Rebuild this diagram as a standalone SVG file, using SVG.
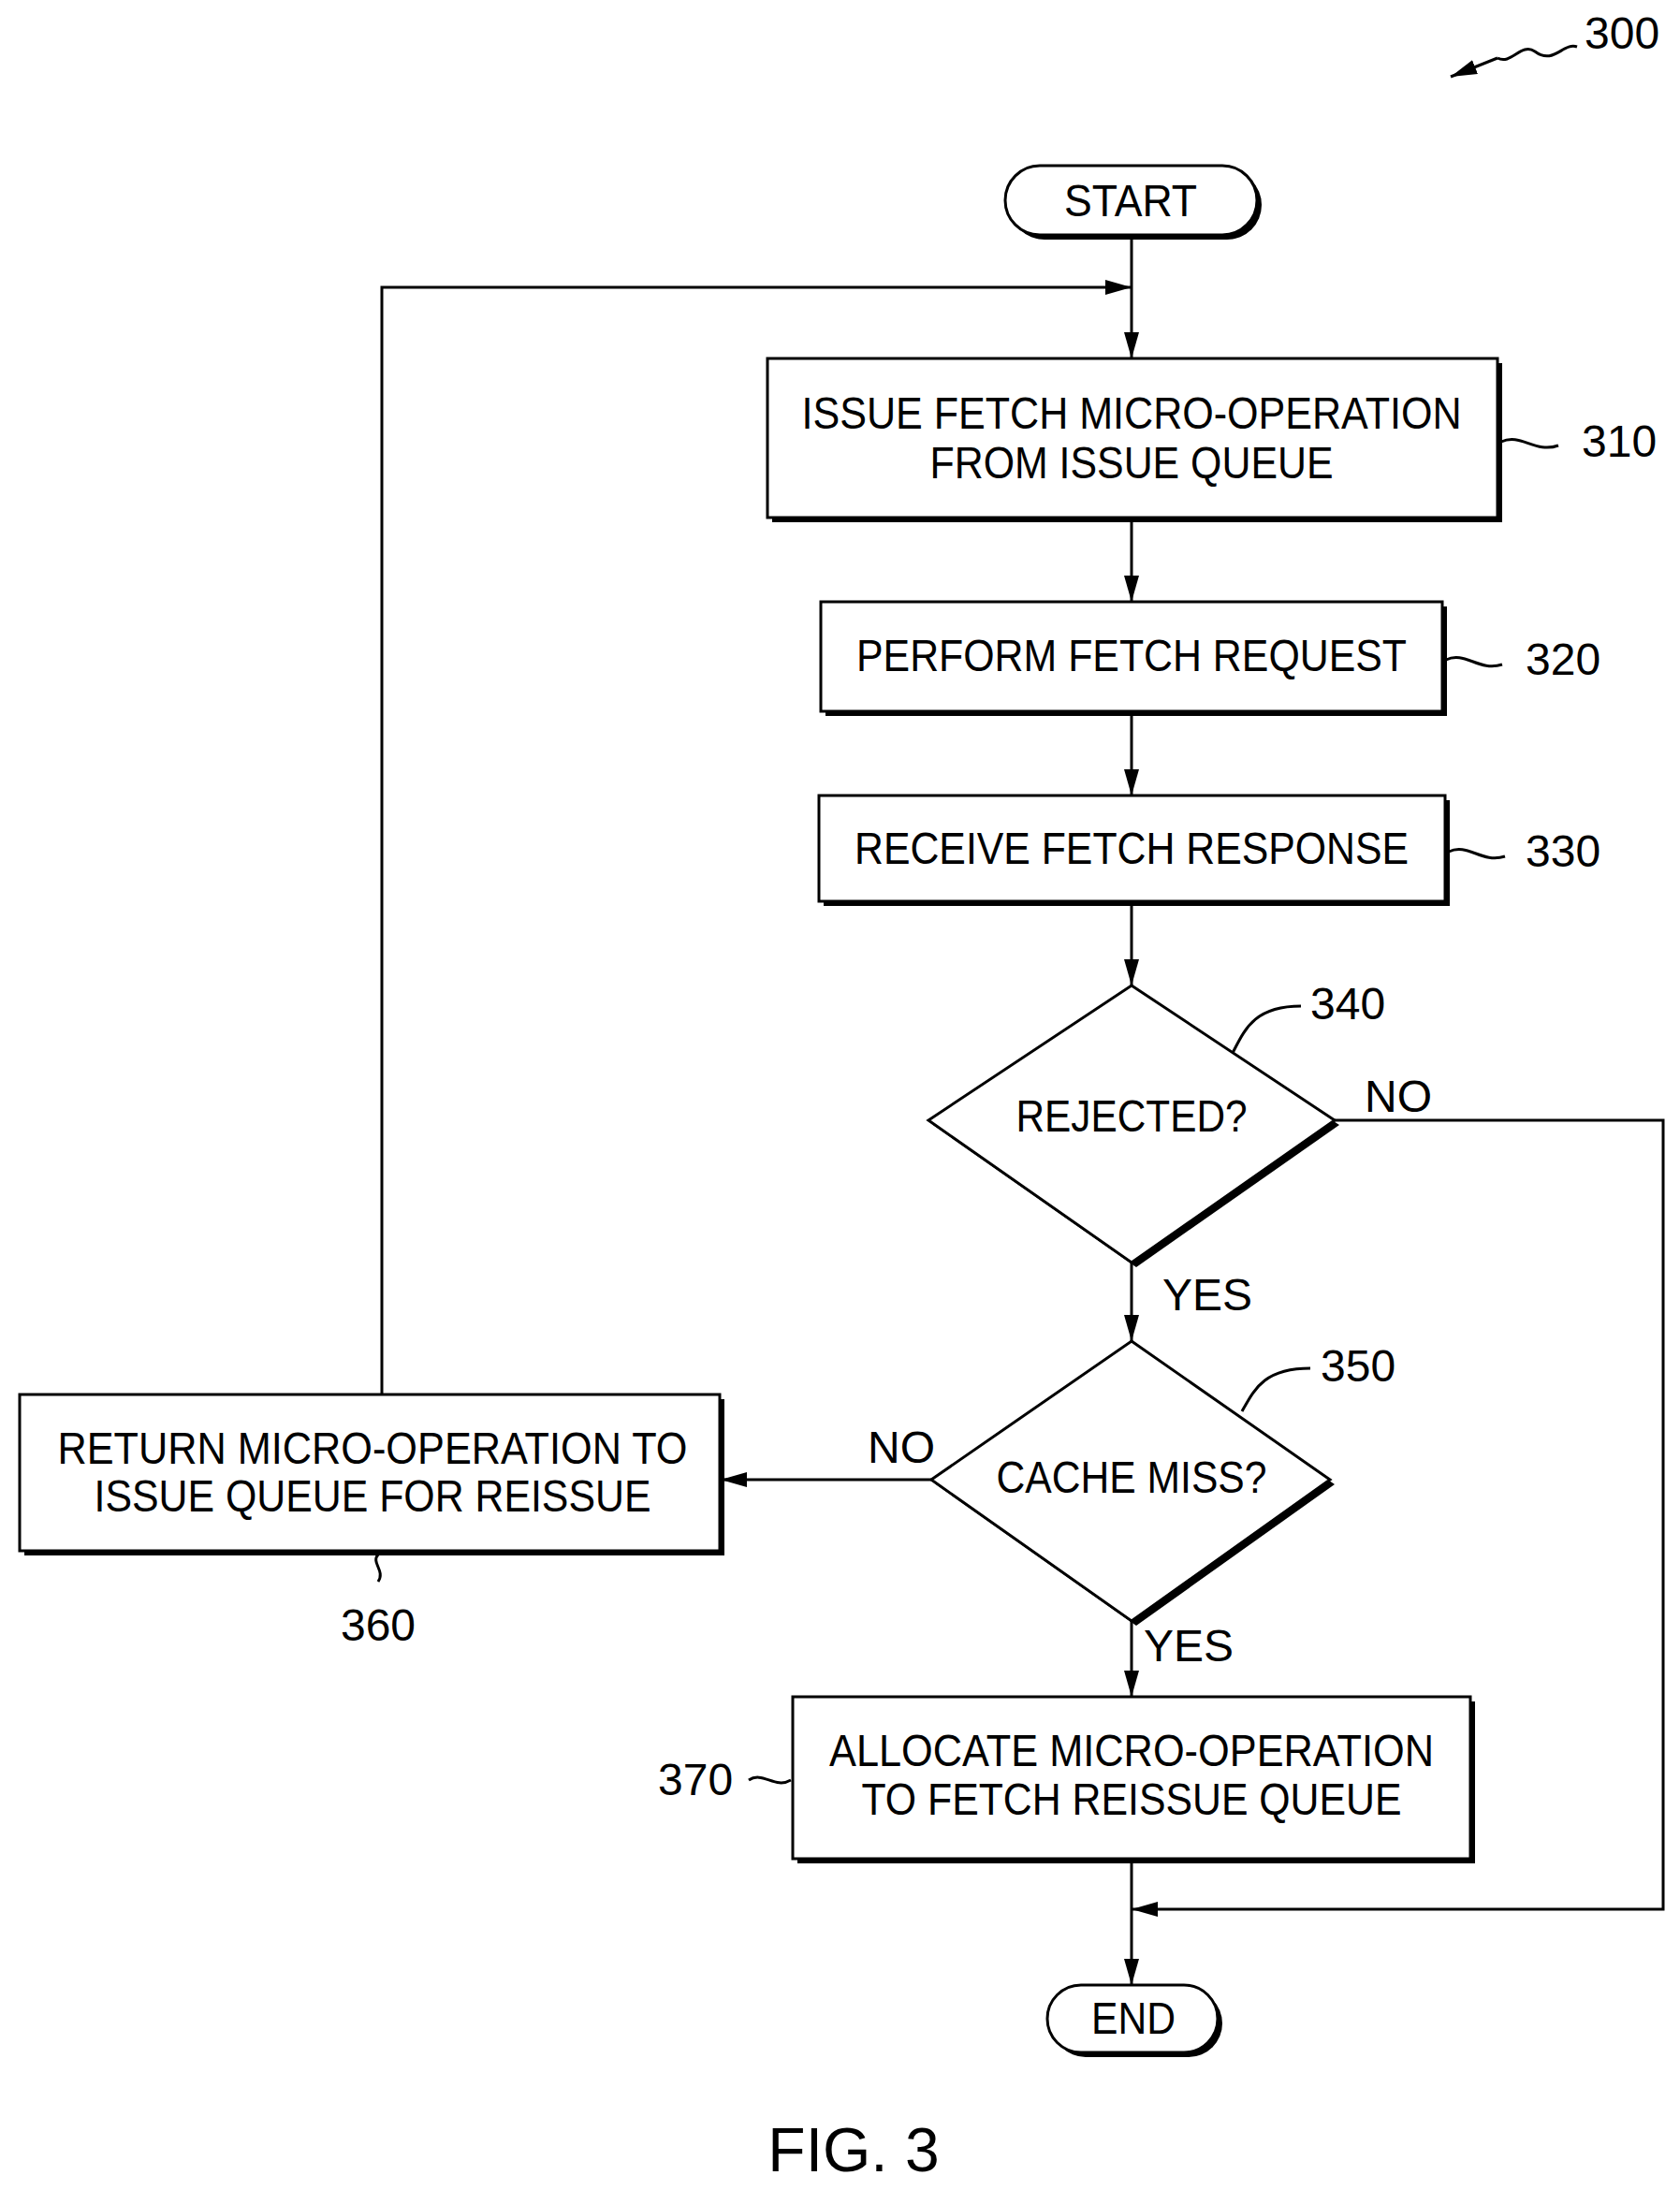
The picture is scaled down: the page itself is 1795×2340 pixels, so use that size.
<svg xmlns="http://www.w3.org/2000/svg" width="1795" height="2340" viewBox="0 0 1795 2340">
<style>
text{font-family:"Liberation Sans",Arial,sans-serif;font-size:48px;fill:#000}
.c{text-anchor:middle}
.box{fill:#fff;stroke:#000;stroke-width:3}
.sh{fill:#000}
.ln{fill:none;stroke:#000;stroke-width:3}
</style>
<defs><marker id="a" markerWidth="12" markerHeight="10" refX="12" refY="5" orient="auto" markerUnits="userSpaceOnUse"><path d="M0,0L24,5L0,10z" transform="scale(0.5,1)"/></marker>
<marker id="ah" markerWidth="28" markerHeight="16" refX="28" refY="8" orient="auto" markerUnits="userSpaceOnUse"><path d="M0,0L28,8L0,16z"/></marker></defs>
<rect width="1795" height="2340" fill="#fff"/>
<g id="connectors">
<path class="ln" d="M1209,251V383" marker-end="url(#ah)"/>
<path class="ln" d="M408,1490V307H1209" marker-end="url(#ah)"/>
<path class="ln" d="M1209,553V643" marker-end="url(#ah)"/>
<path class="ln" d="M1209,760V850" marker-end="url(#ah)"/>
<path class="ln" d="M1209,963V1053" marker-end="url(#ah)"/>
<path class="ln" d="M1209,1349V1433" marker-end="url(#ah)"/>
<path class="ln" d="M995,1581H770" marker-end="url(#ah)"/>
<path class="ln" d="M1209,1732V1813" marker-end="url(#ah)"/>
<path class="ln" d="M1426,1197H1777V2040H1209" marker-end="url(#ah)"/>
<path class="ln" d="M1209,1986V2121" marker-end="url(#ah)"/>
<text x="1458" y="1188">NO</text>
<text x="1242" y="1400">YES</text>
<text x="927" y="1563">NO</text>
<text x="1222" y="1775">YES</text>
</g>
<g id="n300"><text x="1693" y="52">300</text><path class="ln" d="M1685,50C1670,45 1660,70 1640,55C1625,45 1615,70 1600,62" /><path class="ln" d="M1600,62L1550,82" marker-end="url(#ah)"/></g>
<g id="start"><rect class="sh" x="1079" y="182" width="269" height="74" rx="37"/><rect class="box" x="1074" y="177" width="269" height="74" rx="37"/><text class="c" x="1208" y="231" textLength="142" lengthAdjust="spacingAndGlyphs">START</text></g>
<g id="n310"><rect class="sh" x="825" y="388" width="780" height="170"/><rect class="box" x="820" y="383" width="780" height="170"/>
<text class="c" x="1209" y="458" textLength="705" lengthAdjust="spacingAndGlyphs">ISSUE FETCH MICRO-OPERATION</text>
<text class="c" x="1209" y="511" textLength="431" lengthAdjust="spacingAndGlyphs">FROM ISSUE QUEUE</text>
<path class="ln" d="M1604,472C1625,462 1640,485 1665,476"/><text x="1690" y="488">310</text></g>
<g id="n320"><rect class="sh" x="882" y="648" width="664" height="117"/><rect class="box" x="877" y="643" width="664" height="117"/>
<text class="c" x="1209" y="717" textLength="588" lengthAdjust="spacingAndGlyphs">PERFORM FETCH REQUEST</text>
<path class="ln" d="M1545,705C1565,695 1580,718 1605,710"/><text x="1630" y="721">320</text></g>
<g id="n330"><rect class="sh" x="880" y="855" width="669" height="113"/><rect class="box" x="875" y="850" width="669" height="113"/>
<text class="c" x="1209" y="923" textLength="592" lengthAdjust="spacingAndGlyphs">RECEIVE FETCH RESPONSE</text>
<path class="ln" d="M1548,910C1568,900 1583,923 1608,915"/><text x="1630" y="926">330</text></g>
<g id="n340"><path class="sh" d="M1209,1058L1431,1202L1214,1354L997,1202z"/><path class="box" d="M1209,1053L1426,1197L1209,1349L992,1197z"/>
<text class="c" x="1209" y="1209" textLength="247" lengthAdjust="spacingAndGlyphs">REJECTED?</text>
<path class="ln" d="M1317,1125C1330,1100 1340,1075 1390,1075"/><text x="1400" y="1089">340</text></g>
<g id="n350"><path class="sh" d="M1209,1438L1426,1586L1214,1737L1000,1586z"/><path class="box" d="M1209,1433L1421,1581L1209,1732L995,1581z"/>
<text class="c" x="1209" y="1595" textLength="289" lengthAdjust="spacingAndGlyphs">CACHE MISS?</text>
<path class="ln" d="M1327,1508C1340,1485 1350,1462 1400,1462"/><text x="1411" y="1476">350</text></g>
<g id="n360"><rect class="sh" x="26" y="1495" width="748" height="167"/><rect class="box" x="21" y="1490" width="748" height="167"/>
<text class="c" x="398" y="1564" textLength="673" lengthAdjust="spacingAndGlyphs">RETURN MICRO-OPERATION TO</text>
<text class="c" x="398" y="1615" textLength="595" lengthAdjust="spacingAndGlyphs">ISSUE QUEUE FOR REISSUE</text>
<path class="ln" d="M404,1661C396,1670 412,1678 404,1690"/><text class="c" x="404" y="1753">360</text></g>
<g id="n370"><rect class="sh" x="852" y="1818" width="724" height="173"/><rect class="box" x="847" y="1813" width="724" height="173"/>
<text class="c" x="1209" y="1887" textLength="646" lengthAdjust="spacingAndGlyphs">ALLOCATE MICRO-OPERATION</text>
<text class="c" x="1209" y="1939" textLength="577" lengthAdjust="spacingAndGlyphs">TO FETCH REISSUE QUEUE</text>
<path class="ln" d="M800,1902C815,1892 828,1912 845,1902"/><text x="703" y="1918">370</text></g>
<g id="end"><rect class="sh" x="1124" y="2126" width="182" height="72" rx="36"/><rect class="box" x="1119" y="2121" width="182" height="72" rx="36"/><text class="c" x="1211" y="2173" textLength="90" lengthAdjust="spacingAndGlyphs">END</text></g>
<text class="c" x="912" y="2320" style="font-size:66px">FIG. 3</text>
</svg>
